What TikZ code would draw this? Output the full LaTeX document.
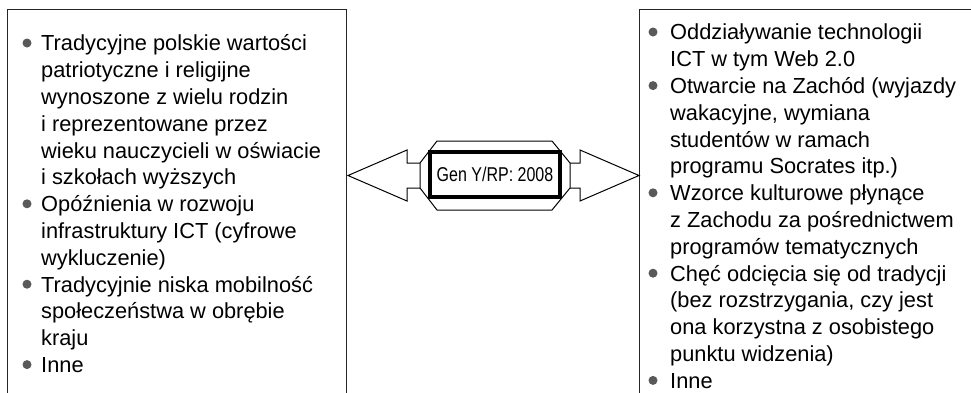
\documentclass[tikz,border=0pt]{standalone}
\usepackage{fontspec}
\setmainfont{Liberation Sans}
\newfontfamily\narrowfont[FakeStretch=0.8]{Liberation Sans}
\begin{document}
\begin{tikzpicture}[x=1pt,y=-1pt,
  boxline/.style={draw=black!85, line width=1.3pt, inner sep=0pt},
  shapeline/.style={draw=black, line width=1pt, line join=miter},
  bul/.style={fill=black!65},
  txt/.style={anchor=base west, inner sep=0pt, font=\fontsize{21.8}{26.8}\selectfont}]
\useasboundingbox (0,0) rectangle (971,392);
\clip (0,0) rectangle (971,392);
\fill[white] (0,0) rectangle (971,392);
% boxes
\node[boxline, anchor=north west, minimum width=339pt, minimum height=420pt] (lbox) at (7,9) {};
\node[boxline, anchor=north west, minimum width=400pt, minimum height=420pt] (rbox) at (639,9) {};
% left text
\node[txt] (ltext) at (41,50.8) {\begin{tabular}[t]{@{}l@{}}
Tradycyjne polskie wartości\\
patriotyczne i religijne\\
wynoszone z wielu rodzin\\
i reprezentowane przez\\
wieku nauczycieli w oświacie\\
i szkołach wyższych\\
Opóźnienia w rozwoju\\
infrastruktury ICT (cyfrowe\\
wykluczenie)\\
Tradycyjnie niska mobilność\\
społeczeństwa w obrębie\\
kraju\\
Inne
\end{tabular}};
\foreach \k in {0,6,9,12} \fill[bul] (27,{50.8+26.8*\k-7.8}) circle[radius=4.5pt];
% right text
\node[txt] (rtext) at (670,39.8) {\begin{tabular}[t]{@{}l@{}}
Oddziaływanie technologii\\
ICT w tym Web 2.0\\
Otwarcie na Zachód (wyjazdy\\
wakacyjne, wymiana\\
studentów w ramach\\
programu Socrates itp.)\\
Wzorce kulturowe płynące\\
z Zachodu za pośrednictwem\\
programów tematycznych\\
Chęć odcięcia się od tradycji\\
(bez rozstrzygania, czy jest\\
ona korzystna z osobistego\\
punktu widzenia)\\
Inne
\end{tabular}};
\foreach \k in {0,2,6,9,13} \fill[bul] (653,{39.8+26.8*\k-7.8}) circle[radius=4.5pt];
% center shape
\draw[shapeline] (437,141) -- (552,141) -- (570,163) -- (570,188) -- (552,210) -- (437,210) -- (420,188) -- (420,163) -- cycle;
\draw[shapeline] (420,163) -- (407,163) -- (407,150) -- (348,175.5) -- (407,201) -- (407,188) -- (420,188);
\draw[shapeline] (570,163) -- (580,163) -- (580,150) -- (639,175.5) -- (580,201) -- (580,188) -- (570,188);
\node[draw=black, line width=4pt, minimum width=130pt, minimum height=45pt, inner sep=0pt,
  font=\narrowfont\fontsize{20}{24}\selectfont] (gen) at (495,174.5) {Gen Y/RP: 2008};
\end{tikzpicture}
\end{document}
